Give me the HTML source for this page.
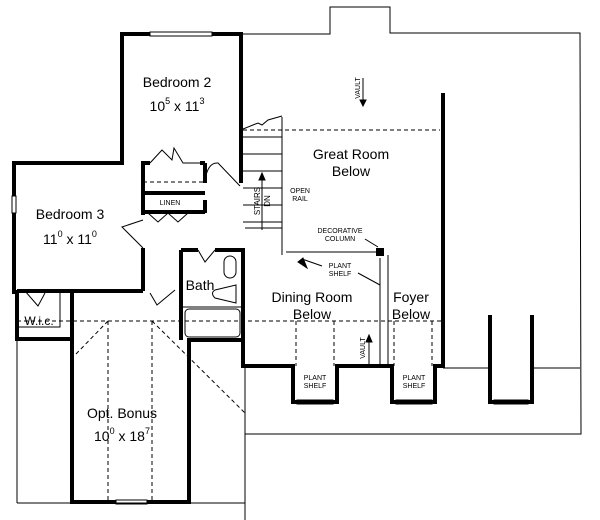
<!DOCTYPE html>
<html><head><style>body{margin:0;background:#fff}svg{display:block}text{font-family:"Liberation Sans",sans-serif;fill:#000}</style></head><body>
<svg width="600" height="520" viewBox="0 0 600 520" xmlns="http://www.w3.org/2000/svg">
<g fill="none" stroke="#000" stroke-width="1">
<polyline points="241,34 330,34 330,7 390,7 390,33 580,33 581,434 245,434"/>
<line x1="443" y1="368" x2="490" y2="368"/><line x1="532" y1="368" x2="580" y2="368"/>
<line x1="245" y1="368" x2="245" y2="520"/>
<line x1="17" y1="339" x2="17" y2="503"/><line x1="17" y1="503" x2="245" y2="503"/>
<line x1="282" y1="117" x2="282" y2="255"/><line x1="286" y1="252" x2="380" y2="252"/>
<line x1="388" y1="255" x2="388" y2="366"/><line x1="380" y1="258" x2="380" y2="366"/>
<line x1="245" y1="228" x2="282" y2="228"/>
<line x1="262" y1="175" x2="262" y2="230"/>
</g>
<g stroke="#000" stroke-width="1">
<line x1="243" y1="137" x2="282" y2="137"/><line x1="243" y1="154" x2="282" y2="154"/><line x1="243" y1="171" x2="282" y2="171"/><line x1="243" y1="188" x2="282" y2="188"/><line x1="243" y1="205" x2="282" y2="205"/><line x1="243" y1="222" x2="282" y2="222"/>
<polyline fill="none" points="243,129 258,123 262,125 268,120 282,116"/>
</g>
<g fill="none" stroke="#000" stroke-width="1" stroke-dasharray="4,3">
<line x1="243" y1="130" x2="440" y2="130"/>
<line x1="17" y1="321" x2="443" y2="321"/>
<line x1="108" y1="321" x2="108" y2="502"/><line x1="152" y1="321" x2="152" y2="502"/>
<line x1="108" y1="321" x2="75" y2="355"/><line x1="152" y1="321" x2="245" y2="413"/>
<line x1="296" y1="321" x2="296" y2="366"/><line x1="334" y1="321" x2="334" y2="366"/>
<line x1="394" y1="321" x2="394" y2="366"/><line x1="432" y1="321" x2="432" y2="366"/>
<line x1="143" y1="182" x2="205" y2="182"/>
</g>
<g fill="none" stroke="#000" stroke-width="4" stroke-linejoin="miter">
<polyline points="150,34 122,34 122,163 14,163 14,196"/>
<polyline points="212,34 241,34 241,183"/>
<polyline points="14,213 14,292 17,292 17,339 72,339 72,502 116,502"/>
<polyline points="147,502 189,502 189,340 243,340 243,250 215,250"/>
<line x1="181" y1="250" x2="181" y2="340"/><line x1="181" y1="250" x2="198" y2="250"/>
<line x1="17" y1="291" x2="143" y2="291"/><line x1="143" y1="248" x2="143" y2="291"/>
<line x1="72" y1="293" x2="72" y2="340"/>
<polyline points="143,215 143,163 150,163"/><line x1="200" y1="163" x2="205" y2="163"/><line x1="205" y1="163" x2="205" y2="183"/>
<line x1="143" y1="212" x2="205" y2="212"/><line x1="205" y1="200" x2="205" y2="213"/>
<line x1="143" y1="193" x2="205" y2="193"/>
<polyline points="243,255 243,366 293,366 293,402 337,402 337,366 392,366 392,402 435,402 435,366 443,366 443,93"/>
<polyline points="490,315 490,402 532,402 532,315"/>
</g>
<rect x="376" y="248" width="8" height="8" fill="#000"/>
<g fill="none" stroke="#000" stroke-width="1">
<rect x="150" y="32" width="62" height="4"/><rect x="116" y="500" width="31" height="4"/>
<rect x="297" y="400" width="36" height="4"/><rect x="396" y="400" width="36" height="4"/><rect x="494" y="400" width="34" height="4"/>
<rect x="12" y="196" width="4" height="17"/>
<rect x="224" y="256" width="12" height="22" rx="6"/><path d="M236,285 L236,303 L215,298 Q210,293 215,290 Z"/>
<rect x="185" y="309" width="55" height="28" rx="4"/>
<line x1="181" y1="307" x2="243" y2="307"/>
<polyline points="150,163 162,150 172,160 174,148 183,163 200,163"/>
<polyline points="148,213 158,222 168,213 178,222 188,213"/>
<path d="M205,180 Q208,162 218,163 L240,186"/>
<path d="M143,220 L122,227 L143,248"/>
<path d="M215,250 L205,262 L198,250"/>
<path d="M150,293 L157,305 L175,290"/>
<path d="M25,291 L38,306 L45,293"/>
<polyline points="60,293 60,327 17,327"/>
</g>
<g font-size="14" text-anchor="middle">
<text x="177" y="87">Bedroom 2</text>
<text x="177" y="111">10<tspan font-size="9" dy="-7">5</tspan><tspan dy="7"> x  11</tspan><tspan font-size="9" dy="-7">3</tspan></text>
<text x="70" y="219">Bedroom 3</text>
<text x="70" y="244">11<tspan font-size="9" dy="-7">0</tspan><tspan dy="7"> x  11</tspan><tspan font-size="9" dy="-7">0</tspan></text>
<text x="351" y="159">Great Room</text><text x="351" y="176">Below</text>
<text x="312" y="302">Dining Room</text><text x="312" y="319">Below</text>
<text x="411" y="302">Foyer</text><text x="411" y="319">Below</text>
<text x="122" y="418">Opt. Bonus</text>
<text x="122" y="441">10<tspan font-size="9" dy="-7">0</tspan><tspan dy="7"> x  18</tspan><tspan font-size="9" dy="-7">7</tspan></text>
<text x="200" y="290">Bath</text>
<text x="39" y="325" font-size="12">W.i.c.</text>
</g>
<g font-size="7" text-anchor="middle">
<text x="170" y="205">LINEN</text>
<text x="300" y="193">OPEN</text><text x="300" y="201">RAIL</text>
<text x="340" y="233">DECORATIVE</text><text x="340" y="241">COLUMN</text>
<text x="340" y="268">PLANT</text><text x="340" y="276">SHELF</text>
<text x="315" y="380">PLANT</text><text x="315" y="388">SHELF</text>
<text x="414" y="380">PLANT</text><text x="414" y="388">SHELF</text>
<text transform="translate(360,88) rotate(-90)">VAULT</text>
<text transform="translate(365,348) rotate(-90)">VAULT</text>
<text font-size="8" transform="translate(260,201) rotate(-90)">STAIRS</text>
<text font-size="8" transform="translate(270,201) rotate(-90)">DN</text>
</g>
<g stroke="#000" stroke-width="1" fill="#000">
<line x1="363" y1="78" x2="363" y2="102"/><path d="M360,100 L366,100 L363,106Z"/>
<line x1="369" y1="365" x2="369" y2="340"/><path d="M366,342 L372,342 L369,335Z"/>
<line x1="262" y1="230" x2="262" y2="178"/><path d="M259,180 L265,180 L262,173Z"/>
<path d="M307,268 L298,262 L303,258Z"/><line x1="322" y1="266" x2="302" y2="259"/>
<line x1="358" y1="273" x2="380" y2="285" fill="none"/>
<line x1="365" y1="239" x2="378" y2="247" fill="none"/>
</g>
</svg>
</body></html>
